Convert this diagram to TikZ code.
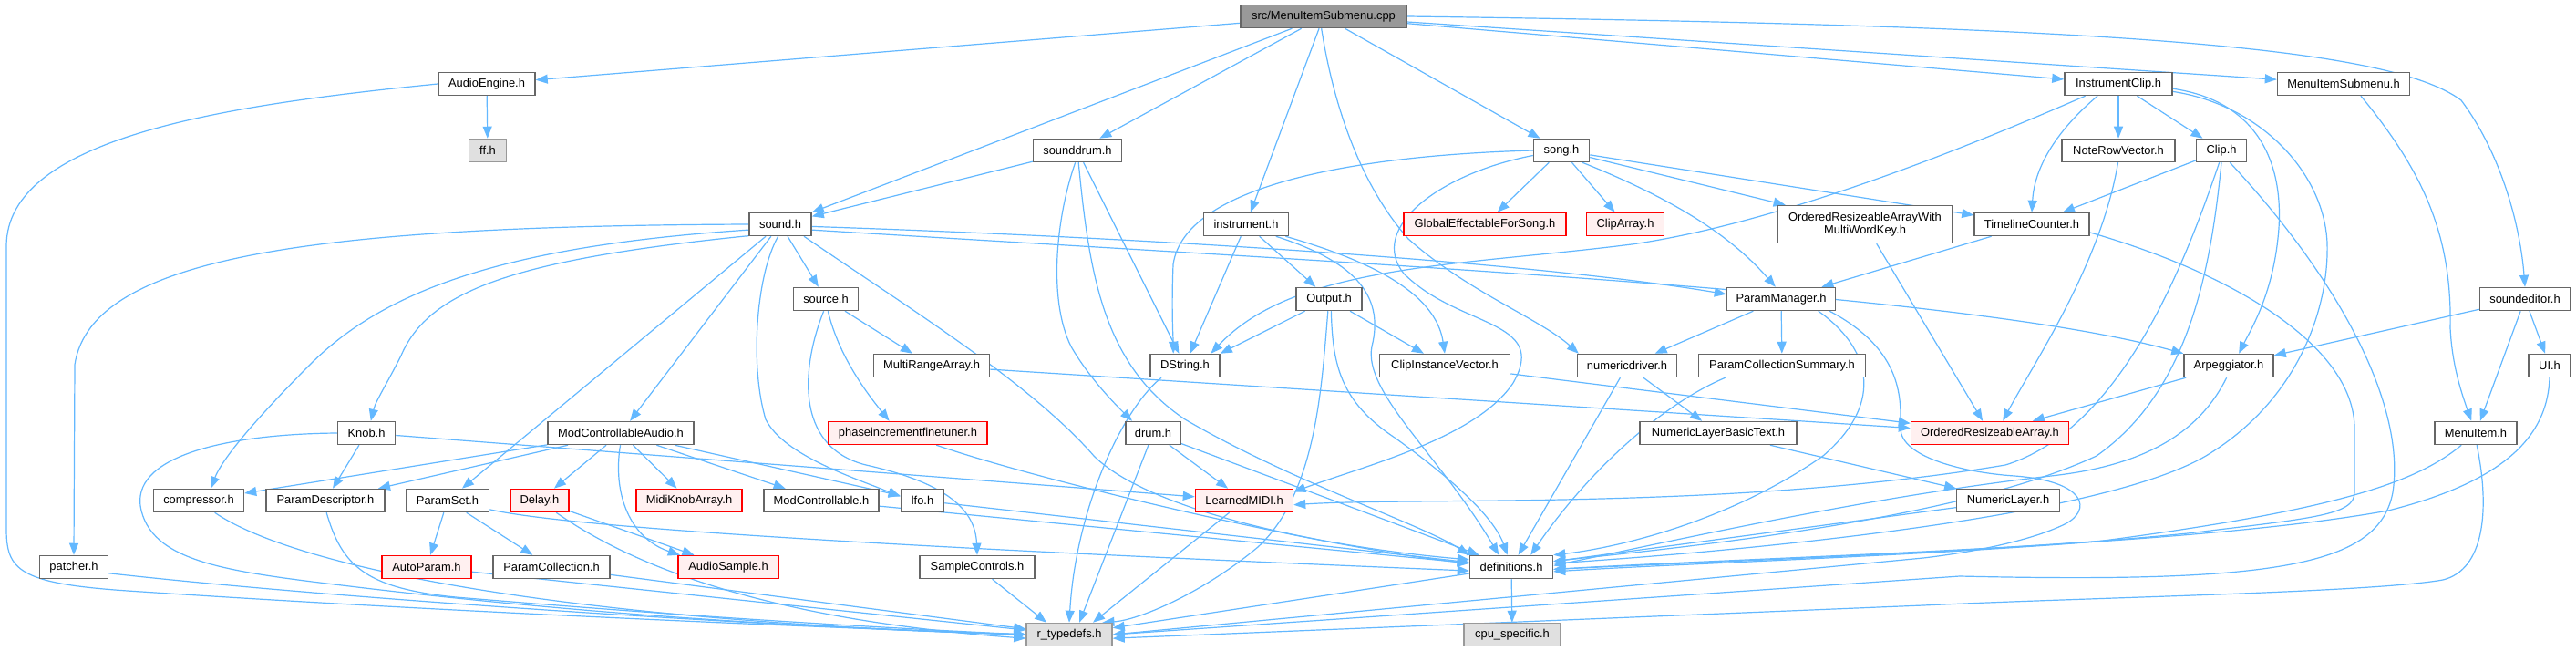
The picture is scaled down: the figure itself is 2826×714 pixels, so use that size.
\documentclass[tikz,border=0pt]{standalone}
\usepackage{fontspec}
\setmainfont{Liberation Sans}
\usetikzlibrary{arrows.meta}
\definecolor{edgec}{HTML}{63B8FF}
\definecolor{nborder}{HTML}{666666}
\definecolor{rootfill}{HTML}{999999}
\definecolor{grayfill}{HTML}{E0E0E0}
\definecolor{grayborder}{HTML}{999999}
\definecolor{redfill}{HTML}{FFF0F0}
\definecolor{redborder}{HTML}{FF0000}
\pgfdeclarelayer{bg}
\pgfsetlayers{bg,main}
\tikzset{
 nd/.style={draw=nborder, fill=white, line width=1.5pt, minimum height=25pt, inner sep=0pt, font=\fontsize{12.9}{14.5}\selectfont, anchor=center},
 rednd/.style={nd, draw=redborder, fill=redfill},
 graynd/.style={nd, draw=grayborder, fill=grayfill},
 rootnd/.style={nd, fill=rootfill},
 ed/.style={draw=edgec, line width=1.2pt, -{Triangle[length=13pt,width=10pt]}},
}
\begin{document}
\begin{tikzpicture}[x=1pt,y=-1pt]
\useasboundingbox (0,0) rectangle (2826,714);
% nodes
\node[rootnd, minimum width=182pt] (root) at (1452,18) {src/MenuItemSubmenu.cpp};
\node[nd, minimum width=106pt] (AudioEngine) at (534,92) {AudioEngine.h};
\node[graynd, minimum width=41pt] (ff) at (535,165) {ff.h};
\node[nd, minimum width=97pt] (sounddrum) at (1182,165) {sounddrum.h};
\node[nd, minimum width=68pt] (sound) at (856,246) {sound.h};
\node[nd, minimum width=93pt] (instrument) at (1367,246) {instrument.h};
\node[nd, minimum width=61pt] (song) at (1713,165) {song.h};
\node[rednd, minimum width=178pt] (GEFS) at (1629,246) {GlobalEffectableForSong.h};
\node[rednd, minimum width=85pt] (ClipArray) at (1783,246) {ClipArray.h};
\node[nd, minimum width=191pt, minimum height=41pt, align=center] (ORAW) at (2046,246) {OrderedResizeableArrayWith\\MultiWordKey.h};
\node[nd, minimum width=118pt] (InstrumentClip) at (2324,92) {InstrumentClip.h};
\node[nd, minimum width=145pt] (MISh) at (2571,92) {MenuItemSubmenu.h};
\node[nd, minimum width=124pt] (NRV) at (2324,165) {NoteRowVector.h};
\node[nd, minimum width=55pt] (Clip) at (2437,165) {Clip.h};
\node[nd, minimum width=126pt] (TC) at (2229,246) {TimelineCounter.h};
\node[nd, minimum width=71pt] (source) at (906,328) {source.h};
\node[nd, minimum width=72pt] (Output) at (1458,328) {Output.h};
\node[nd, minimum width=119pt] (PM) at (1954,328) {ParamManager.h};
\node[nd, minimum width=99pt] (soundeditor) at (2770,328) {soundeditor.h};
\node[nd, minimum width=127pt] (MRA) at (1022,401) {MultiRangeArray.h};
\node[nd, minimum width=76pt] (DString) at (1300,401) {DString.h};
\node[nd, minimum width=143pt] (CIV) at (1585,401) {ClipInstanceVector.h};
\node[nd, minimum width=109pt] (numericdriver) at (1785,401) {numericdriver.h};
\node[nd, minimum width=183pt] (PCS) at (1955,401) {ParamCollectionSummary.h};
\node[nd, minimum width=98pt] (Arp) at (2445,401) {Arpeggiator.h};
\node[nd, minimum width=46pt] (UI) at (2797,401) {UI.h};
\node[nd, minimum width=63pt] (Knob) at (402,475) {Knob.h};
\node[nd, minimum width=160pt] (MCA) at (681,475) {ModControllableAudio.h};
\node[rednd, minimum width=174pt] (PIFT) at (996,475) {phaseincrementfinetuner.h};
\node[nd, minimum width=60pt] (drum) at (1265,475) {drum.h};
\node[nd, minimum width=172pt] (NLBT) at (1885,475) {NumericLayerBasicText.h};
\node[rednd, minimum width=173pt] (ORA) at (2183,475) {OrderedResizeableArray.h};
\node[nd, minimum width=90pt] (MenuItem) at (2716,475) {MenuItem.h};
\node[nd, minimum width=99pt] (compressor) at (218,549) {compressor.h};
\node[nd, minimum width=130pt] (PD) at (357,549) {ParamDescriptor.h};
\node[nd, minimum width=91pt] (ParamSet) at (491,549) {ParamSet.h};
\node[rednd, minimum width=64pt] (Delay) at (592,549) {Delay.h};
\node[rednd, minimum width=116pt] (MKA) at (756,549) {MidiKnobArray.h};
\node[nd, minimum width=126pt] (MC) at (901,549) {ModControllable.h};
\node[nd, minimum width=47pt] (lfo) at (1012,549) {lfo.h};
\node[rednd, minimum width=107pt] (LMIDI) at (1365,549) {LearnedMIDI.h};
\node[nd, minimum width=113pt] (NL) at (2203,549) {NumericLayer.h};
\node[nd, minimum width=75pt] (patcher) at (81,622) {patcher.h};
\node[rednd, minimum width=98pt] (AutoParam) at (468,622) {AutoParam.h};
\node[nd, minimum width=128pt] (PC) at (605,622) {ParamCollection.h};
\node[rednd, minimum width=110pt] (AudioSample) at (799,622) {AudioSample.h};
\node[nd, minimum width=126pt] (SC) at (1072,622) {SampleControls.h};
\node[nd, minimum width=91pt] (defs) at (1658,622) {definitions.h};
\node[graynd, minimum width=94pt] (rtd) at (1173,696) {r\_typedefs.h};
\node[graynd, minimum width=106pt] (cpu) at (1659,696) {cpu\_specific.h};
% edges
\begin{pgfonlayer}{bg}
\fill[white] (0,0) rectangle (2826,714);
% root
\draw[ed] (root) -- (AudioEngine);
\draw[ed] (root) -- (sound);
\draw[ed] (root) -- (sounddrum);
\draw[ed] (root) -- (instrument);
\draw[ed] (root.-100) .. controls (1462,110) and (1490,200) .. (1545,262) .. controls (1610,320) and (1690,350) .. (numericdriver.166);
\draw[ed] (root) -- (song);
\draw[ed] (root) -- (InstrumentClip);
\draw[ed] (root) -- (MISh);
\draw[ed] (root.east) .. controls (2300,28) and (2620,50) .. (2700,110) .. controls (2745,170) and (2765,250) .. (soundeditor.north);
% AudioEngine
\draw[ed] (AudioEngine) -- (ff);
\draw[ed] (AudioEngine.west) .. controls (250,115) and (7,150) .. (7,270) -- (7,580) .. controls (7,625) and (20,640) .. (140,648) .. controls (500,672) and (900,688) .. (rtd.west);
% sounddrum
\draw[ed] (sounddrum) -- (sound);
\draw[ed] (sounddrum.-100) .. controls (1158,240) and (1150,330) .. (1175,380) .. controls (1195,415) and (1225,445) .. (drum.150);
\draw[ed] (sounddrum) -- (DString);
\draw[ed] (sounddrum.-85) .. controls (1195,300) and (1210,400) .. (1300,460) .. controls (1420,530) and (1560,575) .. (defs.north west);
% sound
\draw[ed] (sound.west) .. controls (350,248) and (100,280) .. (82,400) -- (patcher.north);
\draw[ed] (sound.190) .. controls (550,270) and (420,320) .. (340,400) .. controls (290,450) and (245,500) .. (compressor.45);
\draw[ed] (sound.200) .. controls (560,285) and (470,320) .. (440,390) .. controls (425,420) and (412,440) .. (Knob.70);
\draw[ed] (sound) -- (ParamSet);
\draw[ed] (sound) -- (MCA);
\draw[ed] (sound.-100) .. controls (830,300) and (822,400) .. (840,460) .. controls (860,500) and (940,525) .. (lfo.170);
\draw[ed] (sound) -- (source);
\draw[ed] (sound.-27) .. controls (1000,340) and (1130,420) .. (1200,500) .. controls (1260,560) and (1450,600) .. (defs.170);
\draw[ed] (sound.-4) .. controls (1300,262) and (1700,290) .. (PM.175);
\draw[ed] (sound.-10) .. controls (1500,290) and (2150,320) .. (Arp.north west);
% source
\draw[ed] (source) -- (MRA);
\draw[ed] (source.-80) .. controls (920,390) and (950,430) .. (PIFT.147);
\draw[ed] (source.-100) .. controls (880,400) and (870,490) .. (950,510) .. controls (1040,530) and (1070,560) .. (SC.north);
% instrument
\draw[ed] (instrument) -- (DString);
\draw[ed] (instrument) -- (Output);
\draw[ed] (instrument.-22) .. controls (1480,285) and (1520,320) .. (1505,380) .. controls (1495,430) and (1580,500) .. (defs.136);
\draw[ed] (instrument.-17) .. controls (1500,285) and (1575,320) .. (CIV.north);
% Output
\draw[ed] (Output) -- (DString.north east);
\draw[ed] (Output) -- (CIV);
\draw[ed] (Output.-95) .. controls (1450,420) and (1445,540) .. (1380,600) .. controls (1320,650) and (1250,680) .. (rtd.20);
\draw[ed] (Output.-80) .. controls (1462,400) and (1470,440) .. (1530,480) .. controls (1600,530) and (1640,570) .. (defs.108);
% song
\draw[ed] (song.west) .. controls (1500,170) and (1300,200) .. (1287,290) .. controls (1285,340) and (1287,370) .. (DString.134);
\draw[ed] (song) -- (GEFS);
\draw[ed] (song) -- (ClipArray);
\draw[ed] (song) -- (ORAW);
\draw[ed] (song) -- (TC);
\draw[ed] (song.-30) .. controls (1840,220) and (1900,260) .. (PM.115);
\draw[ed] (song.190) .. controls (1580,190) and (1500,250) .. (1540,300) .. controls (1600,360) and (1700,350) .. (1660,420) .. controls (1620,480) and (1500,510) .. (LMIDI.10);
% InstrumentClip
\draw[ed] (InstrumentClip.-160) .. controls (2150,165) and (1950,245) .. (1790,268) .. controls (1600,292) and (1420,290) .. (DString.25);
\draw[ed] (InstrumentClip.-150) .. controls (2260,140) and (2232,180) .. (TC.north);
\draw[ed] (InstrumentClip) -- (NRV);
\draw[ed] (InstrumentClip) -- (Clip);
\draw[ed] (InstrumentClip.-5) .. controls (2470,110) and (2505,170) .. (2500,250) .. controls (2495,320) and (2470,360) .. (Arp.50);
\draw[ed] (InstrumentClip.-8) .. controls (2480,115) and (2550,190) .. (2553,267) .. controls (2555,340) and (2520,440) .. (2420,500) .. controls (2300,570) and (1900,605) .. (defs.5);
% Clip
\draw[ed] (Clip) -- (TC);
\draw[ed] (Clip.-100) .. controls (2400,280) and (2330,470) .. (2200,510) .. controls (1900,560) and (1550,545) .. (LMIDI.-5);
\draw[ed] (Clip.-90) .. controls (2425,300) and (2400,430) .. (2300,500) .. controls (2150,570) and (1850,600) .. (defs.8);
\draw[ed] (Clip.-55) .. controls (2560,300) and (2640,440) .. (2625,540) .. controls (2610,620) and (2500,640) .. (2150,632) -- (rtd.east);
% TimelineCounter
\draw[ed] (TC) -- (PM);
\draw[ed] (TC.-8) .. controls (2450,300) and (2583,380) .. (2583,470) -- (2583,540) .. controls (2583,565) and (2540,568) .. (2400,585) .. controls (2200,605) and (1900,615) .. (defs.-3);
% ParamManager
\draw[ed] (PM) -- (numericdriver);
\draw[ed] (PM) -- (PCS);
\draw[ed] (PM.-18) .. controls (2050,380) and (2070,440) .. (2000,500) .. controls (1900,570) and (1780,600) .. (defs.north east);
\draw[ed] (PM.-14) .. controls (2090,385) and (2085,440) .. (2085,470) .. controls (2085,500) and (2150,518) .. (2210,522) .. controls (2290,528) and (2295,560) .. (2265,575) .. controls (2230,592) and (2170,605) .. (2110,612) -- (rtd.east);
% ORAW, NRV, Arp
\draw[ed] (ORAW) -- (ORA);
\draw[ed] (NRV.-92) .. controls (2305,290) and (2230,400) .. (ORA.43);
\draw[ed] (Arp) -- (ORA);
\draw[ed] (Arp.-100) .. controls (2415,470) and (2360,510) .. (2250,522) .. controls (2050,545) and (1850,590) .. (defs.2);
% soundeditor
\draw[ed] (soundeditor) -- (Arp);
\draw[ed] (soundeditor) -- (MenuItem);
\draw[ed] (soundeditor) -- (UI);
% UI
\draw[ed] (UI.south) .. controls (2795,470) and (2760,525) .. (2620,560) .. controls (2400,600) and (1950,610) .. (defs.-3);
% MenuItemSubmenu.h
\draw[ed] (MISh.-35) .. controls (2660,190) and (2690,260) .. (2688,360) .. controls (2690,400) and (2700,430) .. (MenuItem.110);
% MenuItem
\draw[ed] (MenuItem.-140) .. controls (2650,530) and (2560,560) .. (2300,594) .. controls (2100,610) and (1850,618) .. (defs.-6);
\draw[ed] (MenuItem.-85) .. controls (2732,560) and (2725,625) .. (2680,636) .. controls (2600,650) and (2300,655) .. (2110,664) -- (rtd.-5);
% numericdriver etc.
\draw[ed] (numericdriver) -- (defs);
\draw[ed] (numericdriver) -- (NLBT);
\draw[ed] (NLBT) -- (NL);
\draw[ed] (NL) -- (defs);
\draw[ed] (PCS.-168) .. controls (1820,445) and (1740,520) .. (defs.32);
\draw[ed] (CIV) -- (ORA);
\draw[ed] (MRA) -- (ORA);
\draw[ed] (DString.-153) .. controls (1230,450) and (1180,560) .. (rtd.north);
% drum
\draw[ed] (drum) -- (LMIDI);
\draw[ed] (drum) -- (rtd.50);
\draw[ed] (drum) -- (defs);
\draw[ed] (LMIDI) -- (rtd.27);
\draw[ed] (SC) -- (rtd.152);
\draw[ed] (PIFT.-23) .. controls (1150,530) and (1450,600) .. (defs.175);
\draw[ed] (lfo) -- (defs);
\draw[ed] (MC) -- (defs);
% ParamSet
\draw[ed] (ParamSet) -- (AutoParam);
\draw[ed] (ParamSet) -- (PC);
\draw[ed] (ParamSet.-12) .. controls (640,582) and (1100,605) .. (defs.-175);
% Knob
\draw[ed] (Knob) -- (PD);
\draw[ed] (Knob.west) .. controls (250,476) and (140,500) .. (155,560) .. controls (170,620) and (260,628) .. (400,645) .. controls (700,680) and (950,690) .. (rtd.west);
\draw[ed] (Knob) -- (LMIDI);
% ModControllableAudio
\draw[ed] (MCA) -- (compressor);
\draw[ed] (MCA) -- (PD);
\draw[ed] (MCA) -- (Delay);
\draw[ed] (MCA) -- (MKA);
\draw[ed] (MCA) -- (MC);
\draw[ed] (MCA) -- (lfo);
\draw[ed] (MCA.-92) .. controls (672,540) and (690,590) .. (AudioSample.166);
% Delay
\draw[ed] (Delay) -- (AudioSample);
\draw[ed] (Delay.-36) .. controls (700,625) and (850,680) .. (rtd.185);
% to r_typedefs from left
\draw[ed] (compressor.-37) .. controls (320,620) and (600,680) .. (rtd.west);
\draw[ed] (PD.-85) .. controls (375,620) and (400,645) .. (500,655) .. controls (800,680) and (1000,690) .. (rtd.west);
\draw[ed] (AutoParam) -- (rtd);
\draw[ed] (PC) -- (rtd);
\draw[ed] (patcher.-10) .. controls (400,660) and (900,690) .. (rtd.west);
% definitions
\draw[ed] (defs) -- (rtd);
\draw[ed] (defs) -- (cpu);
\end{pgfonlayer}
\end{tikzpicture}
\end{document}
